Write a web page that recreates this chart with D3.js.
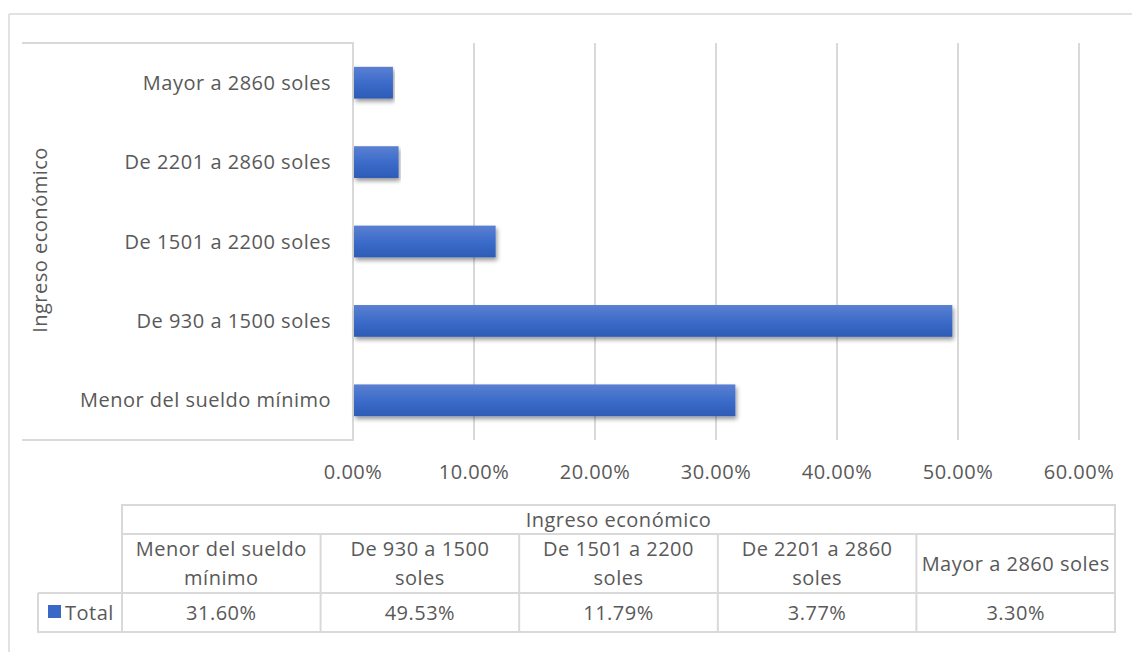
<!DOCTYPE html>
<html>
<head>
<meta charset="utf-8">
<script src="https://cdn.jsdelivr.net/npm/d3@7"></script>
<style>
  html, body { margin: 0; padding: 0; background: #fff; }
  svg { display: block; }
  text { font-family: "Open Sans", "Noto Sans", sans-serif; fill: #595959; letter-spacing: 0.5px; }
</style>
</head>
<body>
<svg id="chart" width="1132" height="652"></svg>
<script>
// Income brackets, drawn top to bottom in the bar chart
const categories = [
  "Mayor a 2860 soles",
  "De 2201 a 2860 soles",
  "De 1501 a 2200 soles",
  "De 930 a 1500 soles",
  "Menor del sueldo mínimo"
];
const values = [0.0330, 0.0377, 0.1179, 0.4953, 0.3160];

// Data table columns (left to right) with wrapped header lines
const tableHeaders = [
  ["Menor del sueldo", "mínimo"],
  ["De 930 a 1500", "soles"],
  ["De 1501 a 2200", "soles"],
  ["De 2201 a 2860", "soles"],
  ["Mayor a 2860 soles"]
];
const tableValues = [0.3160, 0.4953, 0.1179, 0.0377, 0.0330];
const tickValues = [0, 0.1, 0.2, 0.3, 0.4, 0.5, 0.6];
const axisTitle = "Ingreso económico";
const seriesName = "Total";

const svg = d3.select("#chart");
const grid = "#d9d9d9";
const fontSize = 20;

const defs = svg.append("defs");
const grad = defs.append("linearGradient")
  .attr("id", "barGrad").attr("x1", 0).attr("y1", 0).attr("x2", 0).attr("y2", 1);
grad.append("stop").attr("offset", "0%").attr("stop-color", "#5b80d2");
grad.append("stop").attr("offset", "50%").attr("stop-color", "#3c6cca");
grad.append("stop").attr("offset", "100%").attr("stop-color", "#2d5bb6");
const shadow = defs.append("filter").attr("id", "barShadow")
  .attr("x", "-5%").attr("y", "-30%").attr("width", "110%").attr("height", "180%");
shadow.append("feDropShadow")
  .attr("dx", 1.5).attr("dy", 3).attr("stdDeviation", 2)
  .attr("flood-color", "#000").attr("flood-opacity", 0.4);

// Chart frame
svg.append("line").attr("x1", 9).attr("y1", 14).attr("x2", 1132).attr("y2", 14)
  .attr("stroke", grid).attr("stroke-width", 1.5);
svg.append("line").attr("x1", 9).attr("y1", 14).attr("x2", 9).attr("y2", 652)
  .attr("stroke", grid).attr("stroke-width", 1.5);

const x = d3.scaleLinear().domain([0, 0.6]).range([353, 1079]);
const y = d3.scaleBand().domain(categories).range([43, 440])
  .paddingInner(0.6).paddingOuter(0.3);

// Vertical gridlines
svg.append("g").selectAll("line").data(tickValues).join("line")
  .attr("x1", d => x(d)).attr("x2", d => x(d))
  .attr("y1", 43).attr("y2", 440)
  .attr("stroke", grid).attr("stroke-width", 2);

// Category box: top, axis line, bottom
svg.append("path")
  .attr("d", `M22,43H${x(0)}V440H22`)
  .attr("fill", "none").attr("stroke", grid).attr("stroke-width", 2);

// Bars
svg.append("g").selectAll("rect").data(categories).join("rect")
  .attr("x", x(0) + 1)
  .attr("y", d => y(d))
  .attr("width", (d, i) => x(values[i]) - x(0) - 1)
  .attr("height", y.bandwidth())
  .attr("fill", "url(#barGrad)")
  .attr("filter", "url(#barShadow)");

// Category labels
svg.append("g").selectAll("text").data(categories).join("text")
  .attr("x", 331)
  .attr("y", d => y(d) + y.bandwidth() / 2)
  .attr("dy", "0.35em")
  .attr("text-anchor", "end")
  .attr("font-size", fontSize)
  .text(d => d);

// Value axis tick labels
const fmt = d3.format(".2%");
svg.append("g").selectAll("text").data(tickValues).join("text")
  .attr("x", d => x(d))
  .attr("y", 472)
  .attr("dy", "0.35em")
  .attr("text-anchor", "middle")
  .attr("font-size", fontSize)
  .text(d => fmt(d));

// Rotated axis title
svg.append("text")
  .attr("transform", "translate(40,240) rotate(-90)")
  .attr("dy", "0.35em")
  .attr("text-anchor", "middle")
  .attr("font-size", fontSize)
  .text(axisTitle);

// Data table beneath the chart
const colX = d3.scaleBand().domain(d3.range(tableHeaders.length)).range([122, 1115]);
const rows = { top: 505, head2: 534, vals: 593, bottom: 632 };
const tbl = svg.append("g").attr("stroke", grid).attr("stroke-width", 2).attr("fill", "none");
tbl.append("rect").attr("x", 122).attr("y", rows.top)
  .attr("width", 1115 - 122).attr("height", rows.bottom - rows.top);
tbl.append("line").attr("x1", 122).attr("x2", 1115).attr("y1", rows.head2).attr("y2", rows.head2);
tbl.append("line").attr("x1", 38).attr("x2", 1115).attr("y1", rows.vals).attr("y2", rows.vals);
tbl.append("path").attr("d", `M122,${rows.bottom}H38V${rows.vals}`);
tbl.selectAll("line.col").data(d3.range(1, tableHeaders.length)).join("line")
  .attr("class", "col")
  .attr("x1", i => colX(i)).attr("x2", i => colX(i))
  .attr("y1", rows.head2).attr("y2", rows.bottom);

svg.append("text")
  .attr("x", (122 + 1115) / 2).attr("y", (rows.top + rows.head2) / 2)
  .attr("dy", "0.35em").attr("text-anchor", "middle").attr("font-size", fontSize)
  .text(axisTitle);

const headG = svg.append("g");
tableHeaders.forEach((lines, i) => {
  const cx = colX(i) + colX.bandwidth() / 2;
  const cy = (rows.head2 + rows.vals) / 2;
  const lh = 29;
  lines.forEach((ln, j) => {
    headG.append("text")
      .attr("x", cx)
      .attr("y", cy + (j - (lines.length - 1) / 2) * lh)
      .attr("dy", "0.35em").attr("text-anchor", "middle").attr("font-size", fontSize)
      .text(ln);
  });
});

svg.append("g").selectAll("text").data(tableValues).join("text")
  .attr("x", (d, i) => colX(i) + colX.bandwidth() / 2)
  .attr("y", (rows.vals + rows.bottom) / 2)
  .attr("dy", "0.35em").attr("text-anchor", "middle").attr("font-size", fontSize)
  .text(d => fmt(d));

// Legend key in the table row header
svg.append("rect").attr("x", 48).attr("y", 605).attr("width", 13).attr("height", 13)
  .attr("fill", "#3a68c6");
svg.append("text").attr("x", 65).attr("y", (rows.vals + rows.bottom) / 2)
  .attr("dy", "0.35em").attr("font-size", fontSize).text(seriesName);
</script>
</body>
</html>
